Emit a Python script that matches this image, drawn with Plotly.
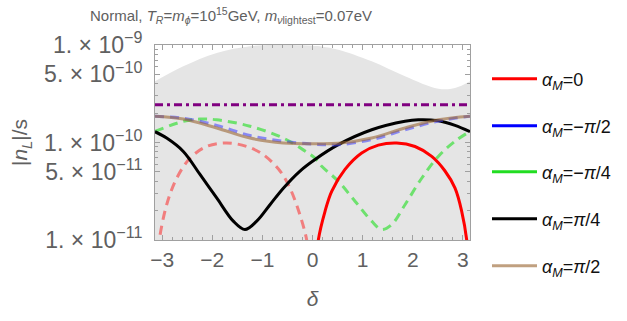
import plotly.graph_objects as go

# ---------------- data ----------------
PI = 3.141592653589793

# gray allowed region (upper boundary)
region_delta = [-PI, -2.577, -1.911, -1.247, -0.8, -0.4, 0.0, 0.2, 0.515, 1.181, 1.845, 2.509, 2.843, PI]
region_upper = [4.24e-10, 6.05e-10, 8.28e-10, 9.7e-10, 1.0e-9, 1.0e-9, 9.8e-10, 9.6e-10, 8.95e-10,
                6.8e-10, 4.78e-10, 3.56e-10, 3.62e-10, 4.24e-10]
region_lower = [1e-12] * len(region_delta)

# observed value (purple dash-dot)
obs_delta = [-PI, PI]
obs_value = [2.44e-10, 2.44e-10]

# alpha_M = 0 (solid red, positive branch)
a0_delta = [0.10, 0.116, 0.25, 0.383, 0.648, 0.981, 1.313, 1.68, 2.045, 2.378, 2.643, 2.843, 2.976, 3.076, 3.09]
a0_value = [8e-12, 1.0e-11, 1.97e-11, 3.16e-11, 5.3e-11, 7.8e-11, 9.4e-11, 9.9e-11, 9.1e-11,
            7.2e-11, 5.1e-11, 3.4e-11, 1.97e-11, 1.0e-11, 8e-12]

# alpha_M = 0 (dashed, negative branch)
a0n_delta = [-3.07, -3.056, -2.909, -2.709, -2.444, -2.11, -1.712, -1.313, -0.981, -0.648, -0.449, -0.249, -0.116, -0.10]
a0n_value = [8e-12, 1.0e-11, 2.3e-11, 4.3e-11, 6.9e-11, 9.1e-11, 9.9e-11, 9.1e-11, 7.5e-11,
             5.1e-11, 3.4e-11, 1.8e-11, 1.0e-11, 8e-12]

# alpha_M = -pi/2 (blue dashed)
am2_delta = [-PI, -2.577, -1.911, -1.247, -0.582, 0.05, 0.515, 1.181, 1.845, 2.509, PI]
am2_value = [1.86e-10, 1.77e-10, 1.50e-10, 1.18e-10, 1.03e-10, 9.6e-11, 9.5e-11, 1.07e-10, 1.35e-10, 1.66e-10, 1.86e-10]

# alpha_M = -pi/4 (green dashed)
am4_delta = [-PI, -2.577, -2.244, -1.911, -1.247, -0.582, -0.184, 0.05, 0.184, 0.515, 0.848, 1.181, 1.38,
             1.58, 1.845, 2.178, 2.509, 2.843, PI]
am4_value = [1.30e-10, 1.65e-10, 1.74e-10, 1.71e-10, 1.47e-10, 1.11e-10, 8.4e-11, 6.9e-11, 5.7e-11, 4.0e-11,
             2.5e-11, 1.56e-11, 1.28e-11, 1.44e-11, 2.3e-11, 4.3e-11, 7.2e-11, 1.03e-10, 1.30e-10]

# alpha_M = pi/4 (black)
ap4_delta = [-PI, -2.909, -2.577, -2.244, -1.911, -1.58, -1.347, -1.113, -0.848, -0.582, -0.249, 0.05,
             0.515, 1.181, 1.845, 2.11, 2.509, 2.843, PI]
ap4_value = [1.29e-10, 1.11e-10, 8.1e-11, 4.7e-11, 2.7e-11, 1.56e-11, 1.28e-11, 1.56e-11, 2.3e-11, 3.4e-11,
             5.1e-11, 6.7e-11, 9.5e-11, 1.35e-10, 1.65e-10, 1.71e-10, 1.67e-10, 1.50e-10, 1.29e-10]

# alpha_M = pi/2 (brown)
ap2_delta = [-PI, -2.577, -1.911, -1.247, -0.582, 0.05, 0.515, 1.181, 1.845, 2.509, PI]
ap2_value = [1.86e-10, 1.74e-10, 1.41e-10, 1.11e-10, 9.9e-11, 9.7e-11, 9.8e-11, 1.11e-10, 1.41e-10, 1.71e-10, 1.86e-10]

legend_labels = ["<i>α<sub>M</sub></i>=0",
                 "<i>α<sub>M</sub></i>=−<i>π</i>/2",
                 "<i>α<sub>M</sub></i>=−<i>π</i>/4",
                 "<i>α<sub>M</sub></i>=<i>π</i>/4",
                 "<i>α<sub>M</sub></i>=<i>π</i>/2"]
legend_colors = ["#ff0000", "#0000ff", "#22dd22", "#000000", "rgb(192,160,128)"]

x_tickvals = [-3, -2, -1, 0, 1, 2, 3]
y_tickvals = [1e-11, 5e-11, 1e-10, 5e-10, 1e-9]
y_ticktext = ["1. × 10<sup>−11</sup>", "5. × 10<sup>−11</sup>", "1. × 10<sup>−10</sup>",
              "5. × 10<sup>−10</sup>", "1. × 10<sup>−9</sup>"]
y_minor = [m * 10.0 ** e for e in (-11, -10) for m in (2, 3, 4, 6, 7, 8, 9)]

# ---------------- figure ----------------
W, H = 627, 321
L, R, T, B = 155, 157, 45, 81
PW, PH = W - L - R, H - T - B

def px_x(xp):
    return (xp - L) / PW

def px_y(yp):
    return (H - B - yp) / PH

fig = go.Figure()
sp = dict(shape="spline", smoothing=1.0)

fig.add_trace(go.Scatter(x=region_delta, y=region_lower, mode="lines", line=dict(width=0, **sp),
                         showlegend=False, hoverinfo="skip"))
fig.add_trace(go.Scatter(x=region_delta, y=region_upper, mode="lines", line=dict(width=0, **sp),
                         fill="tonexty", fillcolor="rgb(229,229,229)", showlegend=False, hoverinfo="skip"))

fig.add_trace(go.Scatter(x=obs_delta, y=obs_value, mode="lines", showlegend=False,
                         line=dict(color="rgb(128,0,128)", width=3, dash="8px,4px,3px,4px")))
fig.add_trace(go.Scatter(x=a0n_delta, y=a0n_value, mode="lines", showlegend=False,
                         line=dict(color="rgba(255,0,0,0.45)", width=3, dash="9px,6px", **sp)))
fig.add_trace(go.Scatter(x=am4_delta, y=am4_value, mode="lines", showlegend=False,
                         line=dict(color="rgb(110,225,110)", width=3, dash="9px,6px", **sp)))
fig.add_trace(go.Scatter(x=ap4_delta, y=ap4_value, mode="lines", showlegend=False,
                         line=dict(color="#000000", width=3, **sp)))
fig.add_trace(go.Scatter(x=am2_delta, y=am2_value, mode="lines", showlegend=False,
                         line=dict(color="rgba(60,60,255,0.55)", width=3, dash="9px,6px", **sp)))
fig.add_trace(go.Scatter(x=ap2_delta, y=ap2_value, mode="lines", showlegend=False,
                         line=dict(color="rgba(153,102,51,0.6)", width=3, **sp)))
fig.add_trace(go.Scatter(x=a0_delta, y=a0_value, mode="lines", showlegend=False,
                         line=dict(color="#ff0000", width=3, **sp)))

# legend entries: one small legend per entry so spacing matches the reference
legend_y_px = [79, 126, 172, 219, 266]
legend_layouts = {}
for i, (lab, col) in enumerate(zip(legend_labels, legend_colors)):
    lname = "legend" if i == 0 else f"legend{i + 1}"
    fig.add_trace(go.Scatter(x=[None], y=[None], mode="lines", name=lab, legend=lname,
                             line=dict(color=col, width=3)))
    legend_layouts[lname] = dict(x=px_x(487), xanchor="left", y=px_y(legend_y_px[i]), yanchor="middle",
                                 itemwidth=45, font=dict(size=18, color="#111111"),
                                 bgcolor="rgba(0,0,0,0)", borderwidth=0)

axis_common = dict(showline=True, linecolor="#a0a0a0", linewidth=1, mirror="allticks",
                   ticks="inside", tickcolor="#a0a0a0", ticklen=5, showgrid=False, zeroline=False)

fig.update_xaxes(range=[-PI, PI], tickvals=x_tickvals, ticklabelstandoff=1,
                 tickfont=dict(size=21, color="#606060"),
                 minor=dict(ticks="inside", dtick=0.2, tick0=0, ticklen=3, tickcolor="#a0a0a0"),
                 title=dict(text="<i>δ</i>", font=dict(size=21, color="#606060"), standoff=21),
                 **axis_common)
fig.update_yaxes(type="log", range=[-11, -9], tickvals=y_tickvals, ticktext=y_ticktext, ticklabelstandoff=7,
                 tickfont=dict(size=23, color="#606060"),
                 minor=dict(ticks="inside", tickmode="array", tickvals=y_minor, ticklen=3, tickcolor="#a0a0a0"),
                 title=dict(text="|<i>n<sub>L</sub></i>|/s", font=dict(size=21, color="#606060"), standoff=10),
                 **axis_common)

fig.add_annotation(text="Normal, <i>T<sub>R</sub></i>=<i>m<sub>ϕ</sub></i>=10<sup>15</sup>GeV, "
                        "<i>m<sub>ν</sub></i><sub>lightest</sub>=0.07eV",
                   xref="paper", yref="paper", x=px_x(88), y=px_y(15), xanchor="left", yanchor="middle",
                   showarrow=False, font=dict(size=15, color="#606060"))

fig.update_layout(
    width=W, height=H, autosize=False,
    margin=dict(l=L, r=R, t=T, b=B, autoexpand=False),
    paper_bgcolor="white", plot_bgcolor="white",
    font=dict(family="Liberation Sans, Arial, sans-serif", color="#606060"),
    **legend_layouts,
)

fig.write_html("out.html", config={"displayModeBar": False},
               post_script="document.body.style.margin='0';")
